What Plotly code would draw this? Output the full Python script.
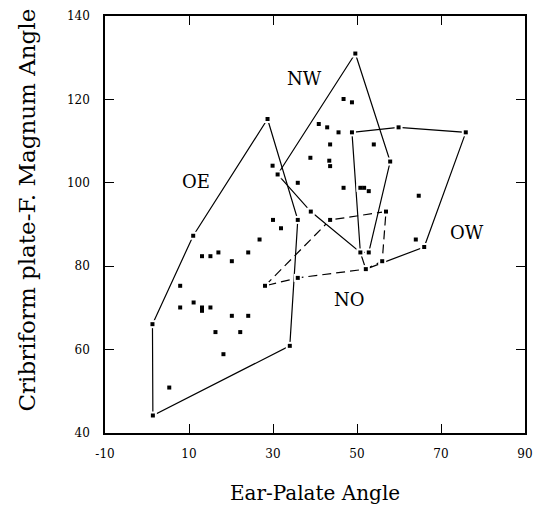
import plotly.graph_objects as go

# scatter points (Ear-Palate angle, Cribriform plate-F. Magnum angle)
pt_x = [1.3, 1.4, 5.3, 7.9, 7.9, 11.0, 11.1, 13.1, 13.1, 13.1, 15.1, 15.1, 16.3, 17.0, 18.2,
        20.2, 20.2, 22.2, 24.1, 24.1, 26.8, 28.1, 28.7, 29.9, 30.0, 31.1, 31.9, 34.0, 35.9,
        35.9, 35.9, 38.9, 39.0, 40.9, 42.9, 43.4, 43.6, 43.6, 43.6, 45.6, 46.8, 46.8, 48.8,
        48.8, 49.6, 50.8, 51.7, 52.8, 50.8, 52.8, 52.1, 54.0, 56.0, 56.9, 57.9, 59.9, 64.7,
        64.0, 66.0, 75.9]
pt_y = [66.1, 44.2, 50.9, 75.3, 70.1, 87.3, 71.3, 82.4, 70.1, 69.3, 82.4, 70.1, 64.2, 83.3, 58.9,
        81.2, 68.1, 64.2, 83.3, 68.1, 86.4, 75.3, 115.3, 104.1, 91.1, 102.0, 89.1, 60.9, 100.0,
        91.1, 77.2, 106.0, 93.1, 114.1, 113.3, 105.3, 104.0, 109.2, 91.1, 112.1, 120.1, 98.8, 119.3,
        112.1, 131.0, 98.8, 98.8, 98.0, 83.3, 83.3, 79.3, 109.2, 81.2, 93.1, 105.1, 113.3, 96.9,
        86.4, 84.6, 112.1]

# group outlines (polygon vertices)
oe_x = [1.3, 11.0, 28.7, 35.9, 34.0, 1.4, 1.3]
oe_y = [66.1, 87.3, 115.3, 91.1, 60.9, 44.2, 66.1]
nw_x = [31.1, 49.6, 57.9, 52.8, 50.8, 39.0, 31.1]
nw_y = [102.0, 131.0, 105.1, 83.3, 83.3, 93.1, 102.0]
ow_x = [48.8, 59.9, 75.9, 66.0, 52.1, 50.8, 48.8]
ow_y = [112.1, 113.3, 112.1, 84.6, 79.3, 83.3, 112.1]
no_x = [28.1, 43.6, 56.9, 56.0, 52.1, 35.9, 28.1]
no_y = [75.3, 91.1, 93.1, 81.2, 79.3, 77.2, 75.3]

# group labels
lab_text = ["OE", "NW", "OW", "NO"]
lab_x = [11.7, 37.4, 76.3, 48.3]
lab_y = [100.4, 125.1, 88.1, 72.1]

x_ticks = [-10, 10, 30, 50, 70, 90]
y_ticks = [40, 60, 80, 100, 120, 140]

x_title = "Ear-Palate Angle"
y_title = "Cribriform plate-F. Magnum Angle"

SERIF = "DejaVu Serif"

fig = go.Figure()
for px, py, dash in [(oe_x, oe_y, "solid"), (nw_x, nw_y, "solid"),
                     (ow_x, ow_y, "solid"), (no_x, no_y, "9px,5px")]:
    fig.add_trace(go.Scatter(x=px, y=py, mode="lines",
                             line=dict(color="black", width=1.2, dash=dash),
                             hoverinfo="skip", showlegend=False))
# white halo around points (gaps in lines near points)
fig.add_trace(go.Scatter(x=pt_x, y=pt_y, mode="markers",
                         marker=dict(symbol="square", size=8, color="white"),
                         hoverinfo="skip", showlegend=False))
fig.add_trace(go.Scatter(x=pt_x, y=pt_y, mode="markers",
                         marker=dict(symbol="square", size=4, color="black"),
                         showlegend=False))

for t, x, y in zip(lab_text, lab_x, lab_y):
    fig.add_annotation(x=x, y=y, text=t, showarrow=False,
                       font=dict(family=SERIF, size=18, color="black"))

# y axis title (sits slightly above the axis centre in the original)
fig.add_annotation(xref="paper", yref="paper", x=-0.1857, y=0.5336, text=y_title,
                   textangle=-90, showarrow=False, xanchor="center", yanchor="middle",
                   font=dict(family=SERIF, size=23, color="black"))

axis_common = dict(showgrid=False, zeroline=False, showline=True, linecolor="black",
                   linewidth=1.5, mirror="ticks", ticks="inside", ticklen=9,
                   tickcolor="black", tickwidth=1, automargin=False,
                   ticklabeloverflow="allow",
                   tickfont=dict(family=SERIF, size=12, color="black"))

fig.update_xaxes(range=[-10, 90], tickvals=x_ticks, ticktext=[str(v) for v in x_ticks],
                 title=dict(text=x_title, font=dict(family=SERIF, size=20, color="black"),
                            standoff=28),
                 ticklabelstandoff=9, **axis_common)
fig.update_yaxes(range=[40, 140], tickvals=y_ticks, ticktext=[str(v) for v in y_ticks],
                 ticklabelstandoff=11, **axis_common)

fig.update_layout(width=535, height=505, plot_bgcolor="white", paper_bgcolor="white",
                  margin=dict(l=105, r=10, t=16, b=72))

fig.write_html("out.html", config={"displayModeBar": False},
               post_script="document.body.style.margin='0';document.body.style.overflow='hidden';")
